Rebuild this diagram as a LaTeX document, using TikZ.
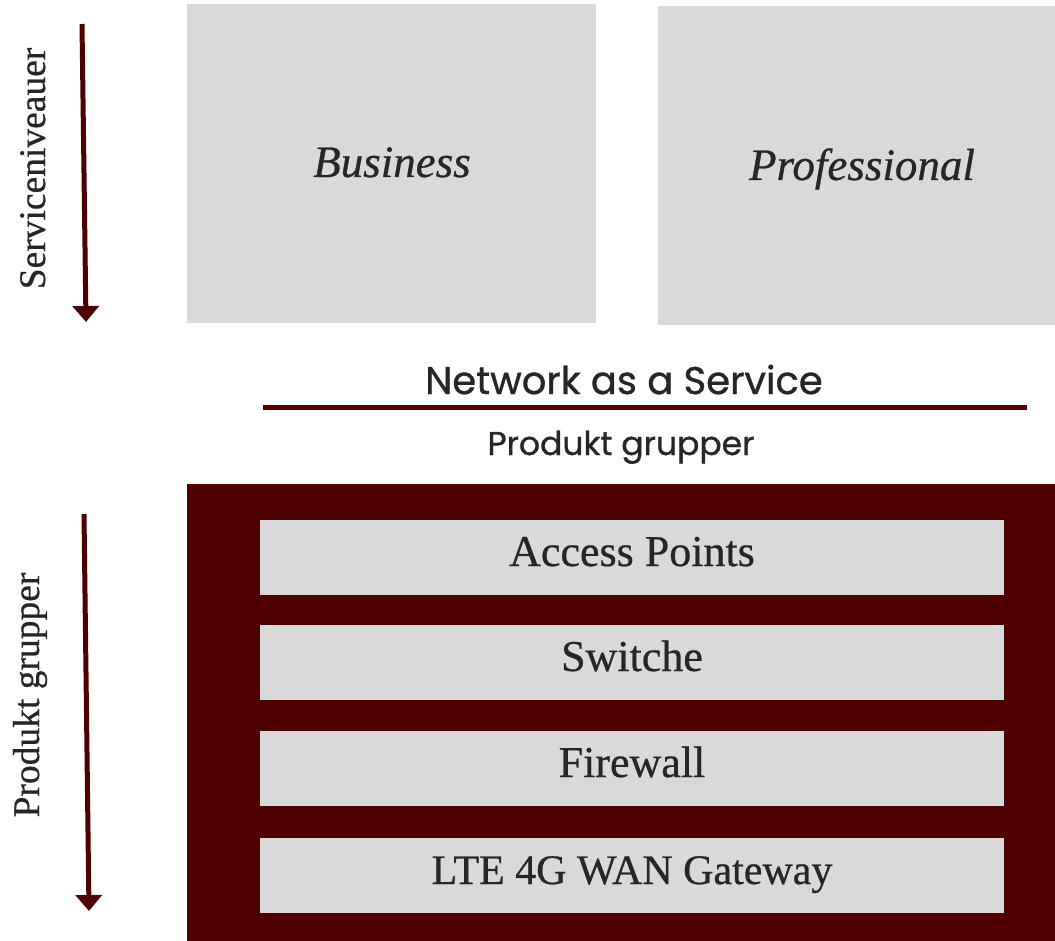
\documentclass[tikz,border=0pt]{standalone}
\usepackage{fontspec}
\setmainfont[FakeBold=0.6, ItalicFeatures={FakeBold=0.6}]{Liberation Serif}
\newfontfamily\popp[FakeBold=0.9]{Poppins}
\usetikzlibrary{arrows.meta}
\definecolor{darkred}{HTML}{4F0000}
\definecolor{boxgray}{HTML}{D9D9D9}
\definecolor{txt}{HTML}{262626}
\tikzset{
  graybox/.style={fill=boxgray, draw=none},
  serlabel/.style={text=txt, font=\fontsize{44}{50}\selectfont, anchor=base, inner sep=0pt},
  itlabel/.style={text=txt, font=\fontsize{45}{50}\selectfont\itshape, anchor=base, inner sep=0pt},
  sidelabel/.style={text=txt, font=\fontsize{37.5}{42}\selectfont, anchor=base, rotate=90, inner sep=0pt},
  downarrow/.style={draw=darkred, line width=5pt, -{Triangle[width=26pt,length=16pt]}, fill=darkred}
}
\begin{document}
\begin{tikzpicture}[x=1pt,y=-1pt]
\useasboundingbox (0,0) rectangle (1055,941);
% top boxes
\fill[graybox] (187,4) rectangle (596,323);
\fill[graybox] (658,6) rectangle (1055,325);
\node[itlabel] (business) at (392,177) {Business};
\node[itlabel] (professional) at (862,180) {Professional};
% side labels and arrows
\node[sidelabel] (servlab) at (45,168.5) {Serviceniveauer};
\coordinate (a1s) at (82,24);
\coordinate (a1e) at (86,322);
\draw[downarrow] (a1s) -- (a1e);
\node[sidelabel] (prodlab) at (39,695) {Produkt grupper};
\coordinate (a2s) at (84,514);
\coordinate (a2e) at (89,911);
\draw[downarrow] (a2s) -- (a2e);
% middle heading
\node[text=txt, font=\popp\fontsize{38.5}{42}\selectfont, anchor=base, inner sep=0pt] (naas) at (624,394) {Network as a Service};
\coordinate (ls) at (263,407.5);
\coordinate (le) at (1027,407.5);
\draw[darkred, line width=5pt] (ls) -- (le);
\node[text=txt, font=\popp\fontsize{33}{36}\selectfont, anchor=base, inner sep=0pt] (pg) at (621,455) {Produkt grupper};
% bottom block
\fill[darkred] (187,484) rectangle (1055,941);
\fill[graybox] (260,520) rectangle (1004,595);
\fill[graybox] (260,625) rectangle (1004,700);
\fill[graybox] (260,731) rectangle (1004,806);
\fill[graybox] (260,838) rectangle (1004,913);
\node[serlabel] (ap) at (632,566) {Access Points};
\node[serlabel] (sw) at (632,671) {Switche};
\node[serlabel] (fw) at (632,777) {Firewall};
\node[serlabel, font=\fontsize{42}{48}\selectfont] (lte) at (632,884) {LTE 4G WAN Gateway};
\end{tikzpicture}
\end{document}
